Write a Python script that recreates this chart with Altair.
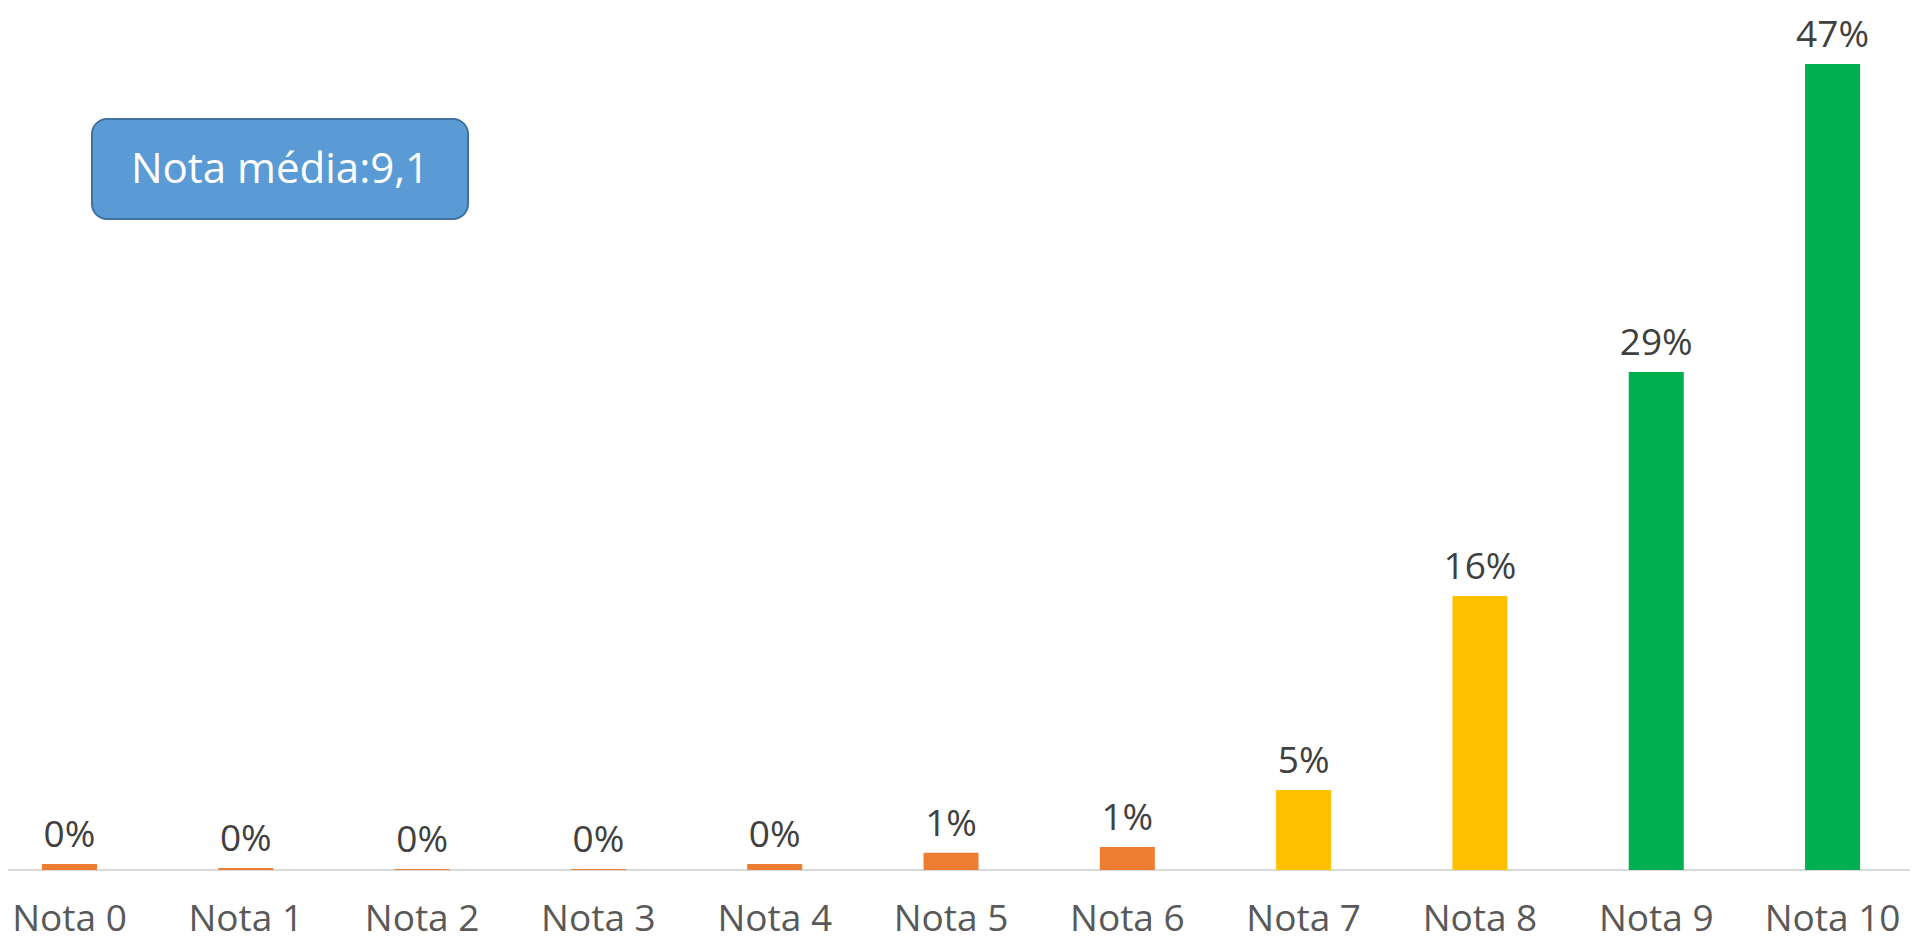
import altair as alt
import pandas as pd

categories = ["Nota 0", "Nota 1", "Nota 2", "Nota 3", "Nota 4", "Nota 5",
              "Nota 6", "Nota 7", "Nota 8", "Nota 9", "Nota 10"]
values = [0.35, 0.12, 0.06, 0.06, 0.35, 1.0, 1.34, 4.66, 15.98, 29.04, 47.0]
labels = ["0%", "0%", "0%", "0%", "0%", "1%", "1%", "5%", "16%", "29%", "47%"]
colors = ["#ED7D31"] * 7 + ["#FFC000"] * 2 + ["#00B050"] * 2
note_text = "Nota média:9,1"

df = pd.DataFrame({"cat": categories, "val": values, "label": labels, "color": colors})

W, H = 1902, 862
FONT = "Open Sans"

x = alt.X("cat:N", sort=categories, title=None,
          scale=alt.Scale(paddingInner=0.688, paddingOuter=0.238, align=0.405),
          axis=alt.Axis(labelAngle=0, labelFont=FONT, labelFontSize=37,
                        labelColor="#595959", labelBaseline="alphabetic",
                        labelPadding=60, ticks=False, tickSize=0, domain=False,
                        grid=False, labelOverlap=False))
y = alt.Y("val:Q", title=None, axis=None,
          scale=alt.Scale(domain=[0, 50.27], nice=False, zero=True))

base = alt.Chart(df)

rule = alt.Chart(pd.DataFrame({"a": [0]})).mark_rule(color="#D9D9D9", strokeWidth=2).encode(
    x=alt.value(-8), x2=alt.value(W), y=alt.value(H))

bars = base.mark_bar().encode(x=x, y=y, color=alt.Color("color:N", scale=None))

text = base.mark_text(font=FONT, fontSize=37, color="#404040", baseline="alphabetic",
                      dy=-17).encode(x=x, y=y, text="label:N")

box = alt.Chart(pd.DataFrame({"a": [0]})).mark_rect(
    cornerRadius=15, fill="#5B9BD5", stroke="#41719C", strokeWidth=2).encode(
    x=alt.value(84), x2=alt.value(460), y=alt.value(111), y2=alt.value(211))

box_text = alt.Chart(pd.DataFrame({"t": [note_text]})).mark_text(
    font=FONT, fontSize=42, color="white", baseline="alphabetic", align="center").encode(
    x=alt.value(272), y=alt.value(175), text="t:N")

chart = alt.layer(rule, bars, text, box, box_text).properties(
    width=W, height=H,
    autosize=alt.AutoSizeParams(type="none"),
    padding={"left": 0, "top": 0, "right": 0, "bottom": 73},
    background="white",
).configure_view(stroke=None, strokeWidth=0)

chart.save("out.html", embed_options={"renderer": "svg", "actions": False})
